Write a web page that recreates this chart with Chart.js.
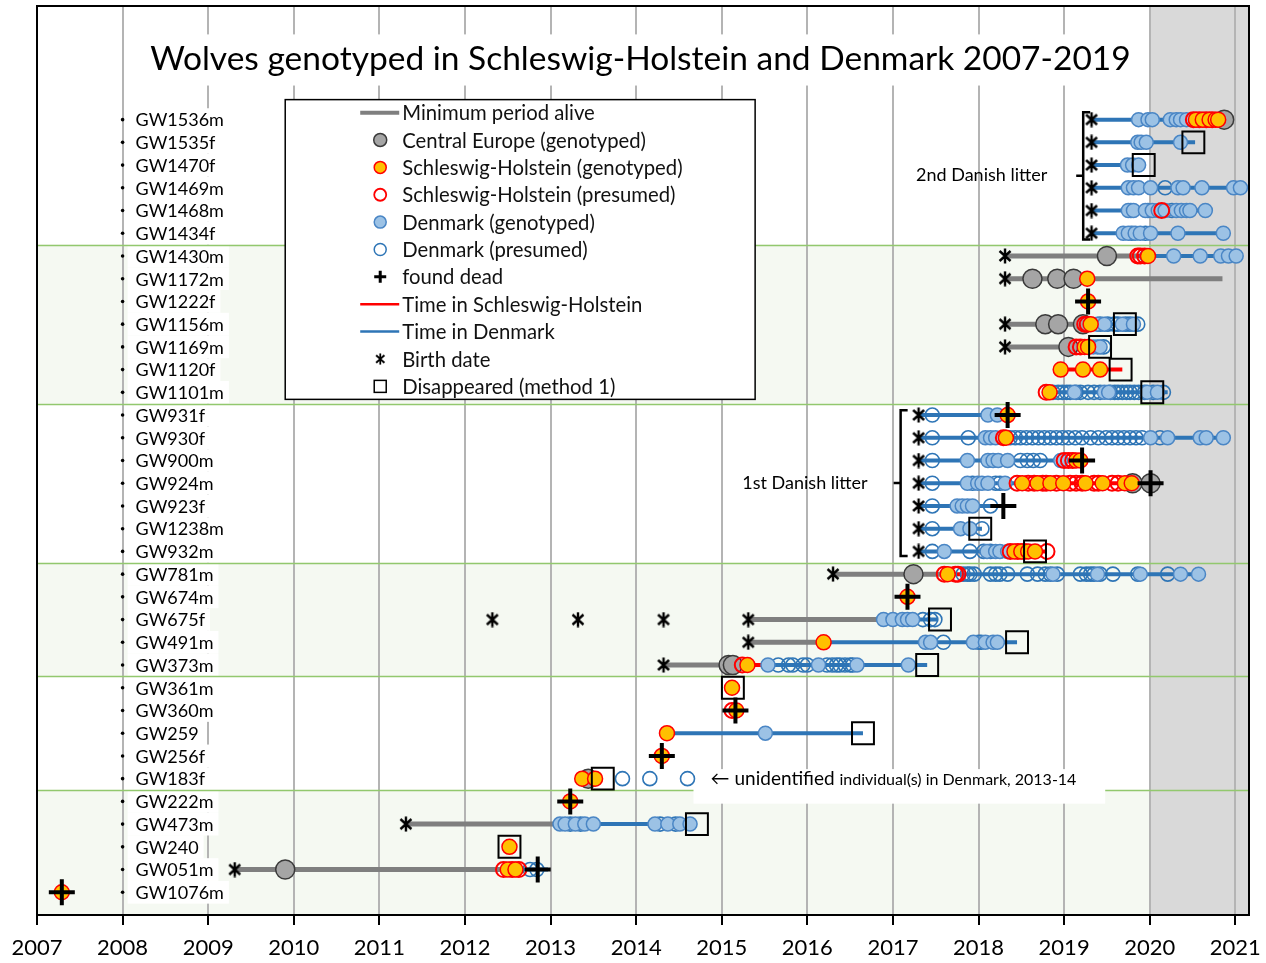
<!DOCTYPE html>
<html>
<head>
<meta charset="utf-8">
<title>Wolves genotyped in Schleswig-Holstein and Denmark 2007-2019</title>
<script src="https://cdn.jsdelivr.net/npm/chart.js@4.4.1/dist/chart.umd.min.js"></script>
<style>
  html, body { margin: 0; padding: 0; background: #fff; }
  #wrap { width: 1266px; height: 963px; }
</style>
</head>
<body>
<div id="wrap"><canvas id="chart" width="1266" height="963"></canvas></div>
<script>
const FONT = 'Lato, "Open Sans", sans-serif';

// Wolves, top to bottom
const wolves = ['GW1536m', 'GW1535f', 'GW1470f', 'GW1469m', 'GW1468m', 'GW1434f',
  'GW1430m', 'GW1172m', 'GW1222f', 'GW1156m', 'GW1169m', 'GW1120f', 'GW1101m',
  'GW931f', 'GW930f', 'GW900m', 'GW924m', 'GW923f', 'GW1238m', 'GW932m',
  'GW781m', 'GW674m', 'GW675f', 'GW491m', 'GW373m',
  'GW361m', 'GW360m', 'GW259', 'GW256f', 'GW183f',
  'GW222m', 'GW473m', 'GW240', 'GW051m', 'GW1076m'];
const yearTicks = [2007, 2008, 2009, 2010, 2011, 2012, 2013, 2014, 2015, 2016, 2017, 2018, 2019, 2020, 2021];
const greenBands = [[5.5, 12.5], [19.5, 24.5], [29.5, 35]];
const bandEdges = [5.5, 12.5, 19.5, 24.5, 29.5];

// Linien: [wolf, von, bis]
const minPeriodAlive = [
  ['GW1430m', 2018.31, 2019.89],
  ['GW1172m', 2018.31, 2020.85],
  ['GW1156m', 2018.31, 2019.22],
  ['GW1169m', 2018.31, 2019.05],
  ['GW781m', 2016.30, 2017.65],
  ['GW675f', 2015.31, 2016.88],
  ['GW491m', 2015.31, 2016.19],
  ['GW373m', 2014.32, 2015.08],
  ['GW473m', 2011.31, 2013.08],
  ['GW051m', 2009.31, 2012.47]
];
const timeInSH = [
  ['GW1536m', 2020.50, 2020.85],
  ['GW1430m', 2019.86, 2019.98],
  ['GW1156m', 2019.22, 2019.35],
  ['GW1169m', 2019.05, 2019.31],
  ['GW1120f', 2018.96, 2019.68],
  ['GW1101m', 2018.79, 2018.84],
  ['GW900m', 2018.98, 2019.21],
  ['GW924m', 2018.45, 2020.01],
  ['GW932m', 2018.31, 2018.80],
  ['GW781m', 2017.60, 2017.80],
  ['GW373m', 2015.24, 2015.48],
  ['GW051m', 2012.45, 2012.67]
];
const timeInDK = [
  ['GW1536m', 2019.32, 2020.50],
  ['GW1535f', 2019.32, 2020.53],
  ['GW1470f', 2019.32, 2019.87],
  ['GW1469m', 2019.32, 2021.08],
  ['GW1468m', 2019.32, 2020.65],
  ['GW1434f', 2019.32, 2020.86],
  ['GW1430m', 2019.98, 2021.02],
  ['GW1156m', 2019.35, 2019.86],
  ['GW1169m', 2019.31, 2019.46],
  ['GW1101m', 2018.84, 2020.21],
  ['GW931f', 2017.30, 2018.31],
  ['GW930f', 2017.30, 2020.88],
  ['GW900m', 2017.30, 2018.98],
  ['GW924m', 2017.30, 2018.45],
  ['GW923f', 2017.30, 2018.29],
  ['GW1238m', 2017.30, 2018.04],
  ['GW932m', 2017.30, 2018.31],
  ['GW781m', 2017.80, 2020.57],
  ['GW675f', 2016.88, 2017.53],
  ['GW491m', 2016.19, 2018.45],
  ['GW373m', 2015.48, 2017.40],
  ['GW259', 2014.36, 2016.65],
  ['GW473m', 2013.08, 2014.71],
  ['GW051m', 2012.67, 2012.97]
];

// Nachweise: [wolf, [daten]]
const centralEurope = [
  ['GW1536m', [2020.87]],
  ['GW1430m', [2019.50]],
  ['GW1172m', [2018.63, 2018.92, 2019.11]],
  ['GW1156m', [2018.78, 2018.93, 2019.22]],
  ['GW1169m', [2019.05]],
  ['GW924m', [2019.80, 2020.01]],
  ['GW781m', [2017.24]],
  ['GW373m', [2015.08, 2015.13]],
  ['GW183f', [2013.44]],
  ['GW051m', [2009.90]]
];
const shGenotyped = [
  ['GW1536m', [2020.54, 2020.62, 2020.70, 2020.77, 2020.80]],
  ['GW1430m', [2019.98]],
  ['GW1172m', [2019.27]],
  ['GW1222f', [2019.28]],
  ['GW1156m', [2019.31]],
  ['GW1169m', [2019.24, 2019.28]],
  ['GW1120f', [2018.96, 2019.22, 2019.42]],
  ['GW1101m', [2018.83]],
  ['GW931f', [2018.34]],
  ['GW930f', [2018.32]],
  ['GW900m', [2019.14, 2019.19]],
  ['GW924m', [2018.51, 2018.69, 2018.84, 2018.99, 2019.25, 2019.45, 2019.71, 2019.79]],
  ['GW932m', [2018.42, 2018.50, 2018.58, 2018.66]],
  ['GW781m', [2017.64]],
  ['GW674m', [2017.17]],
  ['GW491m', [2016.19]],
  ['GW373m', [2015.30]],
  ['GW361m', [2015.12]],
  ['GW360m', [2015.17]],
  ['GW259', [2014.36]],
  ['GW256f', [2014.30]],
  ['GW183f', [2013.37, 2013.52]],
  ['GW222m', [2013.23]],
  ['GW240', [2012.52]],
  ['GW051m', [2012.50, 2012.59]],
  ['GW1076m', [2007.29]]
];
const shPresumed = [
  ['GW1536m', [2020.51, 2020.58, 2020.66, 2020.73]],
  ['GW1468m', [2020.14]],
  ['GW1430m', [2019.86, 2019.89, 2019.94]],
  ['GW1156m', [2019.24, 2019.27]],
  ['GW1169m', [2019.14, 2019.19]],
  ['GW1101m', [2018.79]],
  ['GW930f', [2018.29]],
  ['GW900m', [2019.00, 2019.05, 2019.10]],
  ['GW924m', [2018.45, 2018.58, 2018.65, 2018.75, 2018.79, 2018.91, 2019.07, 2019.14, 2019.21, 2019.35, 2019.40, 2019.56, 2019.63]],
  ['GW932m', [2018.37, 2018.46, 2018.53, 2018.80]],
  ['GW781m', [2017.60, 2017.73, 2017.76]],
  ['GW373m', [2015.24]],
  ['GW360m', [2015.12]],
  ['GW051m', [2012.45, 2012.55, 2012.63]]
];
const dkGenotyped = [
  ['GW1536m', [2019.87, 2019.98, 2020.03, 2020.24, 2020.31, 2020.36, 2020.43]],
  ['GW1535f', [2019.86, 2019.90, 2019.96, 2020.36]],
  ['GW1470f', [2019.74, 2019.80, 2019.87]],
  ['GW1469m', [2019.75, 2019.81, 2019.87, 2020.01, 2020.33, 2020.39, 2020.61, 2020.98, 2021.06]],
  ['GW1468m', [2019.75, 2019.81, 2019.95, 2020.03, 2020.10, 2020.18, 2020.31, 2020.37, 2020.43, 2020.47, 2020.65]],
  ['GW1434f', [2019.69, 2019.75, 2019.83, 2019.89, 2020.01, 2020.33, 2020.86]],
  ['GW1430m', [2020.28, 2020.59, 2020.83, 2020.92, 2021.01]],
  ['GW1156m', [2019.39, 2019.47, 2019.68, 2019.81]],
  ['GW1169m', [2019.34, 2019.39, 2019.42]],
  ['GW1101m', [2019.12, 2019.47, 2019.52, 2019.97, 2020.09]],
  ['GW931f', [2018.11, 2018.22]],
  ['GW930f', [2018.08, 2018.14, 2018.20, 2020.01, 2020.21, 2020.59, 2020.66, 2020.86]],
  ['GW900m', [2017.87, 2018.11, 2018.17, 2018.23, 2018.34, 2018.96]],
  ['GW924m', [2017.87, 2017.99, 2018.04, 2018.11, 2018.31]],
  ['GW923f', [2017.75, 2017.81, 2017.87, 2017.93]],
  ['GW1238m', [2017.79, 2017.90]],
  ['GW932m', [2017.60, 2018.10, 2018.20, 2018.25, 2018.34]],
  ['GW781m', [2018.87, 2019.39, 2019.89, 2020.36, 2020.57]],
  ['GW675f', [2016.89, 2017.00, 2017.11, 2017.17, 2017.23]],
  ['GW491m', [2017.38, 2017.44, 2017.94, 2018.08, 2018.17, 2018.22]],
  ['GW373m', [2015.54, 2016.13, 2016.58, 2017.18]],
  ['GW259', [2015.51]],
  ['GW473m', [2013.11, 2013.17, 2013.29, 2013.40, 2013.50, 2014.22, 2014.37, 2014.51, 2014.63]]
];
const dkPresumed = [
  ['GW1468m', [2019.78, 2019.98, 2020.26]],
  ['GW1469m', [2020.18]],
  ['GW1434f', [2019.79, 2019.95]],
  ['GW1430m', [2019.97]],
  ['GW1156m', [2019.42, 2019.51, 2019.59, 2019.63, 2019.72, 2019.77, 2019.86]],
  ['GW1169m', [2019.46]],
  ['GW1101m', [2018.87, 2018.93, 2018.98, 2019.03, 2019.07, 2019.14, 2019.19, 2019.28, 2019.35, 2019.42, 2019.54, 2019.59, 2019.63, 2019.68, 2019.73, 2019.77, 2019.82, 2019.87, 2019.94, 2020.04, 2020.16]],
  ['GW931f', [2017.46]],
  ['GW930f', [2017.46, 2017.88, 2018.37, 2018.43, 2018.49, 2018.56, 2018.63, 2018.70, 2018.77, 2018.84, 2018.91, 2018.98, 2019.05, 2019.13, 2019.21, 2019.31, 2019.40, 2019.49, 2019.56, 2019.63, 2019.70, 2019.77, 2019.84, 2019.91, 2020.12]],
  ['GW900m', [2017.46, 2018.49, 2018.57, 2018.64, 2018.72]],
  ['GW924m', [2017.46, 2017.93, 2018.20, 2018.25]],
  ['GW923f', [2017.46, 2018.14]],
  ['GW1238m', [2017.46, 2018.04]],
  ['GW932m', [2017.46, 2017.90, 2018.06, 2018.14]],
  ['GW781m', [2017.82, 2017.87, 2017.90, 2017.95, 2018.14, 2018.20, 2018.25, 2018.34, 2018.57, 2018.69, 2018.78, 2018.84, 2018.92, 2019.19, 2019.26, 2019.31, 2019.35, 2019.42, 2019.57, 2019.86, 2020.21]],
  ['GW675f', [2017.35, 2017.44, 2017.49]],
  ['GW491m', [2017.59, 2018.00, 2018.03]],
  ['GW373m', [2015.66, 2015.78, 2015.83, 2015.95, 2016.00, 2016.23, 2016.29, 2016.34, 2016.38, 2016.44, 2016.50, 2016.53]],
  ['GW183f', [2013.84, 2014.16, 2014.60]],
  ['GW473m', [2013.23, 2013.35, 2014.28, 2014.46]],
  ['GW051m', [2012.76, 2012.84]]
];
const foundDead = [
  ['GW1222f', [2019.28]], ['GW931f', [2018.34]], ['GW900m', [2019.21]], ['GW924m', [2020.01]],
  ['GW923f', [2018.29]], ['GW674m', [2017.17]], ['GW360m', [2015.16]], ['GW256f', [2014.30]],
  ['GW222m', [2013.23]], ['GW051m', [2012.85]], ['GW1076m', [2007.29]]
];
const birthDates = [
  ['GW1536m', [2019.32]], ['GW1535f', [2019.32]], ['GW1470f', [2019.32]], ['GW1469m', [2019.32]],
  ['GW1468m', [2019.32]], ['GW1434f', [2019.32]],
  ['GW1430m', [2018.31]], ['GW1172m', [2018.31]], ['GW1156m', [2018.31]], ['GW1169m', [2018.31]],
  ['GW931f', [2017.30]], ['GW930f', [2017.30]], ['GW900m', [2017.30]], ['GW924m', [2017.30]],
  ['GW923f', [2017.30]], ['GW1238m', [2017.30]], ['GW932m', [2017.30]],
  ['GW781m', [2016.30]], ['GW675f', [2012.32, 2013.32, 2014.32, 2015.31]], ['GW491m', [2015.31]],
  ['GW373m', [2014.32]], ['GW473m', [2011.31]], ['GW051m', [2009.31]]
];
const disappeared = [
  ['GW1535f', [2020.51]], ['GW1470f', [2019.93]], ['GW1156m', [2019.71]], ['GW1169m', [2019.42]],
  ['GW1120f', [2019.66]], ['GW1101m', [2020.03]], ['GW1238m', [2018.02]], ['GW932m', [2018.66]],
  ['GW675f', [2017.55]], ['GW491m', [2018.45]], ['GW373m', [2017.40]], ['GW361m', [2015.13]],
  ['GW259', [2016.65]], ['GW183f', [2013.61]], ['GW473m', [2014.71]], ['GW240', [2012.52]]
];

const legendLabels = ['Minimum period alive', 'Central Europe (genotyped)', 'Schleswig-Holstein (genotyped)',
  'Schleswig-Holstein (presumed)', 'Denmark (genotyped)', 'Denmark (presumed)', 'found dead',
  'Time in Schleswig-Holstein', 'Time in Denmark', 'Birth date', 'Disappeared (method 1)'];

const rowOf = name => wolves.indexOf(name);
const toPoints = list => list.flatMap(([w, xs]) => xs.map(v => ({ x: v, y: rowOf(w) })));
const toSegments = list => list.flatMap(([w, a, b]) => [{ x: a, y: rowOf(w) }, { x: b, y: rowOf(w) }, { x: null, y: null }]);

// Geburtsdatum-Symbol (x mit Strich)
const birthIcon = document.createElement('canvas');
birthIcon.width = 16; birthIcon.height = 16;
(() => {
  const c = birthIcon.getContext('2d');
  c.strokeStyle = '#000';
  c.lineWidth = 2.4;
  c.beginPath();
  c.moveTo(2.5, 3); c.lineTo(13.5, 13);
  c.moveTo(13.5, 3); c.lineTo(2.5, 13);
  c.moveTo(8, 0.5); c.lineTo(8, 15.5);
  c.stroke();
})();

const GRAY = '#7f7f7f', RED = '#ff0000', BLUE = '#2e75b6';

function lineSet(label, list, color, width, order) {
  return { label, data: toSegments(list), showLine: true, spanGaps: false, borderColor: color,
    borderWidth: width, pointRadius: 0, order };
}
function pointSet(label, list, style, order) {
  return Object.assign({ label, data: toPoints(list), showLine: false, order }, style);
}

const datasets = [
  lineSet('Minimum period alive', minPeriodAlive, GRAY, 5, 11),
  lineSet('Time in Schleswig-Holstein', timeInSH, RED, 4, 10),
  lineSet('Time in Denmark', timeInDK, BLUE, 4, 9),
  pointSet('Central Europe (genotyped)', centralEurope, { pointRadius: 9.5, pointBackgroundColor: '#a5a5a5', pointBorderColor: '#3a3a3a', pointBorderWidth: 1.5 }, 8),
  pointSet('Denmark (presumed)', dkPresumed, { pointRadius: 7, pointBackgroundColor: 'rgba(0,0,0,0)', pointBorderColor: BLUE, pointBorderWidth: 1.6 }, 7),
  pointSet('Denmark (genotyped)', dkGenotyped, { pointRadius: 7, pointBackgroundColor: '#9cc2e5', pointBorderColor: '#4a86c5', pointBorderWidth: 1.5 }, 6),
  pointSet('Schleswig-Holstein (presumed)', shPresumed, { pointRadius: 7.5, pointBackgroundColor: 'rgba(0,0,0,0)', pointBorderColor: RED, pointBorderWidth: 2 }, 5),
  pointSet('Schleswig-Holstein (genotyped)', shGenotyped, { pointRadius: 7.5, pointBackgroundColor: '#ffc000', pointBorderColor: RED, pointBorderWidth: 1.5 }, 4),
  pointSet('Disappeared (method 1)', disappeared, { pointStyle: 'rect', pointRadius: 15.5, pointBackgroundColor: 'rgba(0,0,0,0)', pointBorderColor: '#000', pointBorderWidth: 2 }, 3),
  pointSet('Birth date', birthDates, { pointStyle: birthIcon, pointRadius: 7 }, 2),
  pointSet('found dead', foundDead, { pointStyle: 'cross', pointRadius: 13, pointBorderColor: '#000', pointBorderWidth: 4 }, 1)
];

// Hintergrund, Titel, Namen, Legende, Anmerkungen
const decor = {
  id: 'decor',
  beforeDraw(chart) {
    const { ctx, chartArea: a, scales: { x, y } } = chart;
    ctx.save();
    ctx.fillStyle = '#fff';
    ctx.fillRect(0, 0, chart.width, chart.height);
    ctx.fillStyle = '#f5f9f2';
    greenBands.forEach(([r0, r1]) => {
      const t = y.getPixelForValue(r0), b = Math.min(y.getPixelForValue(r1), a.bottom);
      ctx.fillRect(a.left, t, a.right - a.left, b - t);
    });
    const gx = x.getPixelForValue(2020);
    ctx.fillStyle = '#d9d9d9';
    ctx.fillRect(gx, a.top, a.right - gx, a.bottom - a.top);
    ctx.restore();
  },
  beforeDatasetsDraw(chart) {
    const { ctx, chartArea: a, scales: { x, y } } = chart;
    ctx.save();

    // Titel
    const tTop = y.getPixelForValue(-3.75), tBot = y.getPixelForValue(-1.5);
    ctx.fillStyle = '#fff';
    ctx.fillRect(x.getPixelForValue(2008.15), tTop, x.getPixelForValue(2019.95) - x.getPixelForValue(2008.15), tBot - tTop);
    ctx.fillStyle = '#000';
    ctx.font = '33.5px ' + FONT;
    ctx.textAlign = 'center';
    ctx.textBaseline = 'middle';
    ctx.fillText('Wolves genotyped in Schleswig-Holstein and Denmark 2007-2019', x.getPixelForValue(2014.05), y.getPixelForValue(-2.64));

    // Namen links
    const x0 = x.getPixelForValue(2008);
    ctx.font = '18px ' + FONT;
    ctx.textAlign = 'left';
    const rowH = y.getPixelForValue(1) - y.getPixelForValue(0);
    wolves.forEach((w, i) => {
      const py = y.getPixelForValue(i);
      const tw = ctx.measureText(w).width;
      ctx.fillStyle = '#fff';
      ctx.fillRect(x0 + 5, py - rowH / 2, tw + 13, rowH);
      ctx.fillStyle = '#000';
      ctx.fillText(w, x0 + 13, py + 1);
      ctx.beginPath();
      ctx.arc(x0, py, 1.8, 0, Math.PI * 2);
      ctx.fill();
    });

    // Gruene Trennlinien
    ctx.strokeStyle = '#92c86e';
    ctx.lineWidth = 1.5;
    bandEdges.forEach(r => {
      const py = Math.round(y.getPixelForValue(r)) + 0.5;
      ctx.beginPath();
      ctx.moveTo(a.left, py);
      ctx.lineTo(a.right, py);
      ctx.stroke();
    });

    // Klammern fuer die Wuerfe
    ctx.strokeStyle = '#000';
    ctx.lineWidth = 2.5;
    const bracket = (bx, r0, r1) => {
      const px = x.getPixelForValue(bx), t = y.getPixelForValue(r0), b = y.getPixelForValue(r1);
      ctx.beginPath();
      ctx.moveTo(px + 7, t); ctx.lineTo(px, t); ctx.lineTo(px, b); ctx.lineTo(px + 7, b);
      const m = (t + b) / 2;
      ctx.moveTo(px, m); ctx.lineTo(px - 7, m);
      ctx.stroke();
    };
    bracket(2019.223, -0.32, 5.27);
    bracket(2017.09, 12.79, 19.2);
    ctx.fillStyle = '#000';
    ctx.font = '18px ' + FONT;
    ctx.textAlign = 'left';
    ctx.fillText('2nd Danish litter', x.getPixelForValue(2017.27), y.getPixelForValue(2.43));
    ctx.fillText('1st Danish litter', x.getPixelForValue(2015.24), y.getPixelForValue(16));

    // Unbekannte Individuen
    const bl = x.getPixelForValue(2014.67), br = x.getPixelForValue(2019.48);
    const bt = y.getPixelForValue(28.58), bb = y.getPixelForValue(30.1);
    ctx.fillStyle = '#fff';
    ctx.fillRect(bl, bt, br - bl, bb - bt);
    ctx.fillStyle = '#000';
    let tx = x.getPixelForValue(2014.87);
    const ty = y.getPixelForValue(29);
    ctx.font = '19px ' + FONT;
    ctx.fillText('\u2190 unidentified', tx, ty);
    tx += ctx.measureText('\u2190 unidentified ').width;
    ctx.font = '16px ' + FONT;
    ctx.fillText('individual(s) in Denmark, 2013-14', tx, ty + 1);

    // Legende
    const lx = x.getPixelForValue(2009.9), rx = x.getPixelForValue(2015.39);
    const ly = y.getPixelForValue(-0.88), ry = y.getPixelForValue(12.31);
    ctx.fillStyle = '#fff';
    ctx.fillRect(lx, ly, rx - lx, ry - ly);
    ctx.strokeStyle = '#000';
    ctx.lineWidth = 1.5;
    ctx.strokeRect(lx, ly, rx - lx, ry - ly);
    const step = (ry - ly - 26) / (legendLabels.length - 1);
    const sx = lx + 95, textX = lx + 117;
    ctx.font = '20.3px ' + FONT;
    legendLabels.forEach((label, i) => {
      const py = ly + 13 + i * step;
      const circle = (r, fill, stroke, w) => {
        ctx.beginPath();
        ctx.arc(sx, py, r, 0, Math.PI * 2);
        if (fill) { ctx.fillStyle = fill; ctx.fill(); }
        ctx.strokeStyle = stroke; ctx.lineWidth = w; ctx.stroke();
      };
      const hline = (color, w) => {
        ctx.beginPath();
        ctx.moveTo(sx - 20, py); ctx.lineTo(sx + 19, py);
        ctx.strokeStyle = color; ctx.lineWidth = w; ctx.stroke();
      };
      if (i === 0) hline(GRAY, 4);
      if (i === 1) circle(6.5, '#a5a5a5', '#3a3a3a', 1.5);
      if (i === 2) circle(6, '#ffc000', RED, 1.5);
      if (i === 3) circle(6, null, RED, 1.8);
      if (i === 4) circle(6, '#9cc2e5', '#4a86c5', 1.5);
      if (i === 5) circle(6, null, BLUE, 1.5);
      if (i === 6) {
        ctx.beginPath();
        ctx.moveTo(sx - 6, py); ctx.lineTo(sx + 6, py);
        ctx.moveTo(sx, py - 6); ctx.lineTo(sx, py + 6);
        ctx.strokeStyle = '#000'; ctx.lineWidth = 3; ctx.stroke();
      }
      if (i === 7) hline(RED, 2.5);
      if (i === 8) hline(BLUE, 2.5);
      if (i === 9) ctx.drawImage(birthIcon, sx - 6, py - 6, 12, 12);
      if (i === 10) { ctx.strokeStyle = '#000'; ctx.lineWidth = 1.5; ctx.strokeRect(sx - 6, py - 6, 12, 12); }
      ctx.fillStyle = '#111';
      ctx.textAlign = 'left';
      ctx.textBaseline = 'middle';
      ctx.fillText(label, textX, py + 1);
    });
    ctx.restore();
  },
  afterDatasetsDraw(chart) {
    const { ctx, chartArea: a } = chart;
    ctx.save();
    ctx.strokeStyle = '#000';
    ctx.lineWidth = 2;
    ctx.beginPath();
    ctx.moveTo(a.left, a.bottom); ctx.lineTo(a.left, a.top); ctx.lineTo(a.right, a.top); ctx.lineTo(a.right, a.bottom);
    ctx.stroke();
    ctx.restore();
  }
};

new Chart(document.getElementById('chart'), {
  type: 'scatter',
  data: { datasets },
  options: {
    responsive: false,
    animation: false,
    events: [],
    layout: { autoPadding: false, padding: { left: 37, right: 17, top: 6, bottom: 0 } },
    plugins: { legend: { display: false }, tooltip: { enabled: false } },
    scales: {
      x: {
        type: 'linear', min: 2007, max: 2021.16,
        afterBuildTicks: s => { s.ticks = yearTicks.map(v => ({ value: v })); },
        afterFit: s => { s.paddingLeft = 0; s.paddingRight = 0; s.height = 48; },
        grid: { color: '#b4b4b4', lineWidth: 2, tickColor: '#000', tickLength: 10, tickWidth: 2 },
        border: { color: '#000', width: 2 },
        ticks: { color: '#000', font: { family: FONT, size: 22 }, padding: 10, maxRotation: 0, autoSkip: false, callback: v => String(v) }
      },
      y: { type: 'linear', display: false, reverse: true, min: -5, max: 35 }
    }
  },
  plugins: [decor]
});
</script>
</body>
</html>
